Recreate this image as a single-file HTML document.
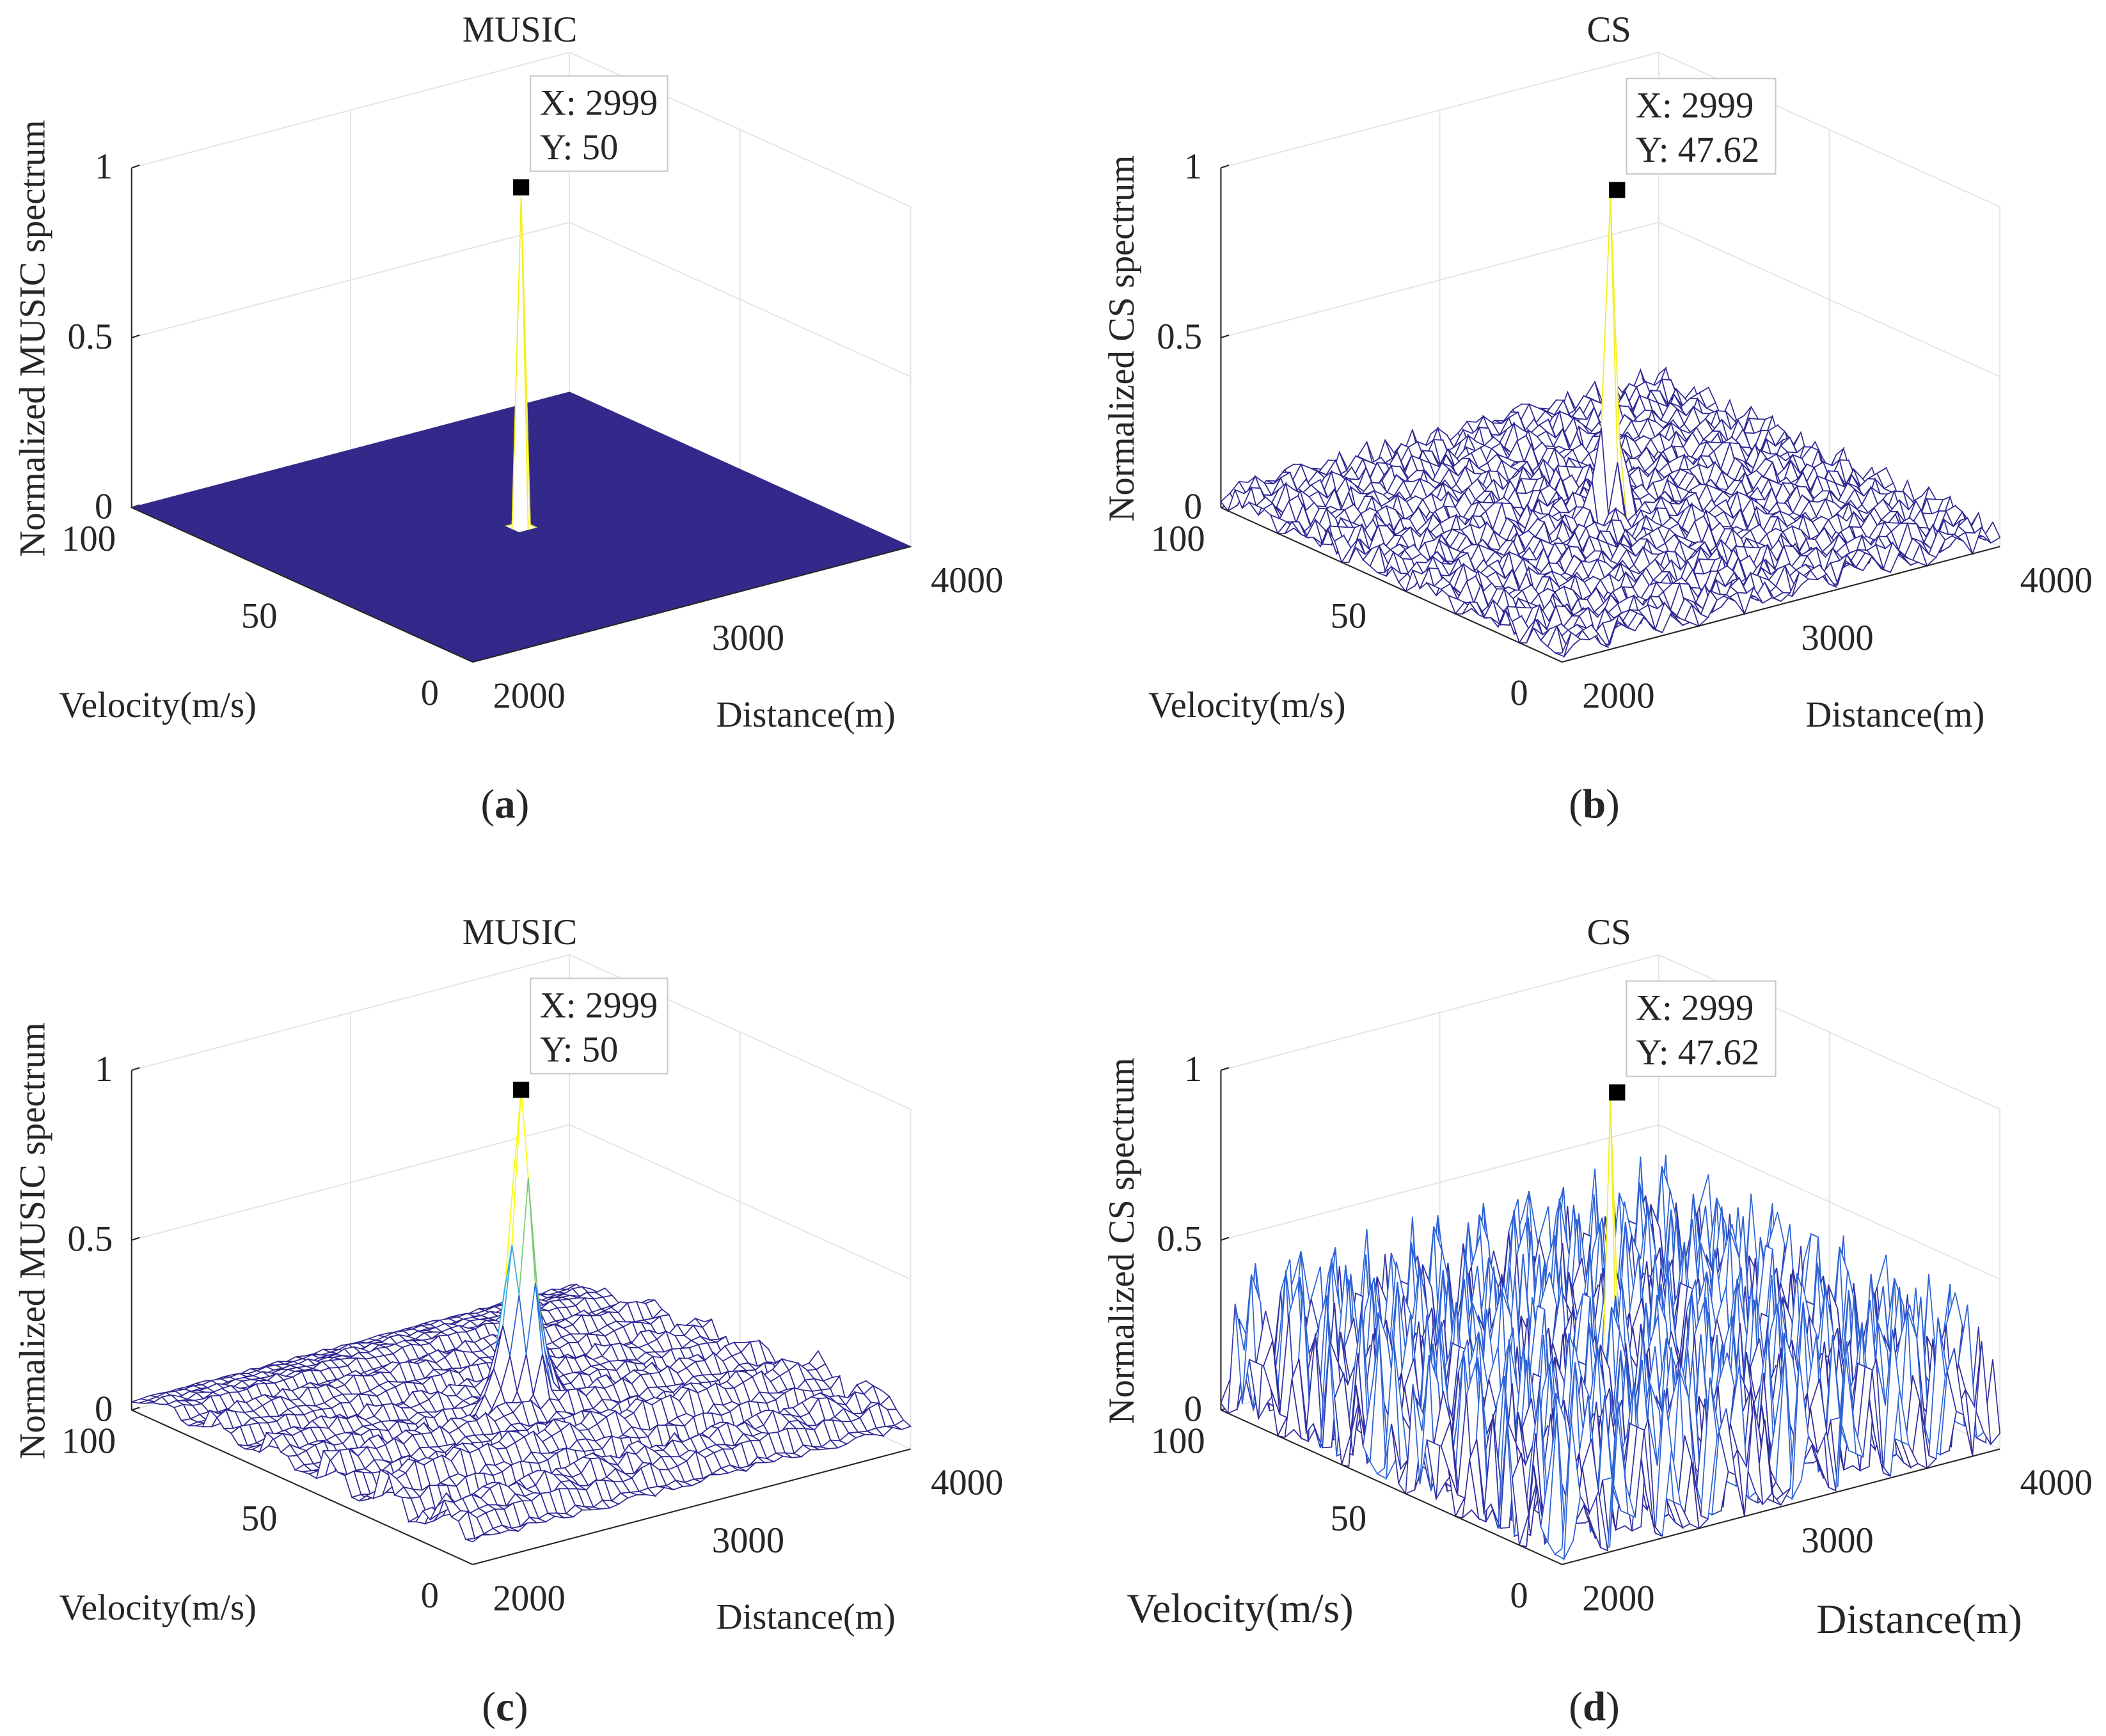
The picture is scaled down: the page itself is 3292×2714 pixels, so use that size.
<!DOCTYPE html>
<html><head><meta charset="utf-8"><style>
html,body{margin:0;padding:0;background:#fff}
svg{display:block}
text{font-family:"Liberation Serif",serif;fill:#262626}
</style></head><body>
<svg id="fig" xmlns="http://www.w3.org/2000/svg" width="3292" height="2714" viewBox="0 0 1568 1292.7"></svg>
<script>
// ---- data ----
const distTicks=[2000,3000,4000];
const velTicks=[0,50,100];
const zTicks=[0,0.5,1];
const noiseRows=[
"3816204957132860491735826","5092718364059172836401957","2749163085274916305827461",
"8163057294816305729481630","0573928164057392816405739","6284015739628401573962840",
"4938271605493827160549382","1607384952160738495216073","7351960248735196024873519",
"9426037518942603751894260","2815749360281574936028157","6049182735604918273560491",
"3728506914372850691437285","8193640527819364052781936","5460279183546027918354602",
"0937415862093741586209374","7285031649728503164972850","4613928570461392857046139",
"1859672043185967204318596","9372184605937218460593721","3046851927304685192730468",
"6718293054671829305467182","2591740386259174038625917","8430569172843056917284305",
"5164382709516438270951643"];
const ridgeProfileC=[0.08,0.13,0.16,0.1,0.05,0.12,0.17,0.08,0.04,0.1,0.14,0.06,0.05,0.09,0.12,0.06,0.04,0.08,0.11,0.05,0.04,0.07,0.06,0.04,0.03];
const peakDistProfileC=[1,0.55,0.32,0.2,0.13,0.08,0.05];
const peakVelProfileC=[1,0.75,0.45,0.25,0.12,0.05];
const peakValue=1, peakDist=3000, peakVel=50;
const tipX=["2999","2999","2999","2999"];
const tipY=["50","47.62","50","47.62"];
// ---- setup ----
const NS="http://www.w3.org/2000/svg";
const svg=document.getElementById('fig');
function el(tag,attrs,parent){const e=document.createElementNS(NS,tag);for(const k in attrs)e.setAttribute(k,attrs[k]);(parent||svg).appendChild(e);return e;}
function txt(s,x,y,size,anchor,parent,extra){const t=el('text',Object.assign({x:x,y:y,'font-size':size,'text-anchor':anchor||'start'},extra||{}),parent);t.textContent=s;return t;}
const N=49;
const cm=[[0,[46,38,140]],[0.32,[48,44,160]],[0.44,[45,110,225]],[0.55,[50,170,225]],[0.75,[120,200,120]],[0.9,[230,210,50]],[1,[249,251,14]]];
function cmap(v){v=Math.max(0,Math.min(1,v));for(let i=1;i<cm.length;i++){if(v<=cm[i][0]){const a=cm[i-1],b=cm[i];const t=(v-a[0])/(b[0]-a[0]);const c=a[1].map((x,k)=>Math.round(x+(b[1][k]-x)*t));return `rgb(${c})`;}}return 'rgb(249,251,14)';}
function dig(i,j){return +noiseRows[i%25][(j*7+i*3)%25];}
function grid(kind){
  const Z=[];const pi=Math.round((peakVel/100)*(N-1)), pj=Math.round((peakDist-2000)/2000*(N-1));
  for(let i=0;i<N;i++){Z.push([]);for(let j=0;j<N;j++){
    let z=0;
    if(kind==='b') z=dig(i,j)/9*0.08;
    if(kind==='d') z=Math.pow(dig(i,j)/9,2)*0.42;
    if(kind==='c') z=ridgeProfileC[Math.floor(i/2)]*(0.75+0.25*dig(i,j)/9);
    Z[i].push(z);}}
  const di=Math.abs, pd=peakDistProfileC, pv=peakVelProfileC;
  if(kind==='c'){for(let i=0;i<N;i++)for(let j=0;j<N;j++){const a=di(j-pj),b=di(i-pi);if(a<pd.length&&b<pv.length)Z[i][j]=Math.max(Z[i][j],peakValue*pd[a]*pv[b]);}}
  else Z[pi][pj]=peakValue*0.97;
  if(kind==='b'){[[0,-1,0.3],[0,1,0.25],[1,0,0.2],[-1,0,0.2],[0,-2,0.15],[0,2,0.14]].forEach(([a,b,v])=>{Z[pi+a][pj+b]=Math.max(Z[pi+a][pj+b],v);});}
  return Z;
}
const panels=[
 {id:'a',ox:0,oy:0,title:'MUSIC',ylab:'Normalized MUSIC spectrum',kind:'a',big:false},
 {id:'b',ox:811,oy:0,title:'CS',ylab:'Normalized CS spectrum',kind:'b',big:false},
 {id:'c',ox:0,oy:672,title:'MUSIC',ylab:'Normalized MUSIC spectrum',kind:'c',big:false},
 {id:'d',ox:811,oy:672,title:'CS',ylab:'Normalized CS spectrum',kind:'d',big:true}];
panels.forEach((p,idx)=>{
  const g=el('g',{});
  
  
  const L=[98+p.ox,378+p.oy];
  const P=(d,v,z)=>[L[0]+(1-v/100)*254+(d-2000)/2000*326, L[1]+(1-v/100)*115-(d-2000)/2000*86-z*253];
  const gl={stroke:'#e3e3e3','stroke-width':0.9,fill:'none'};
  zTicks.forEach(z=>{const a=P(2000,100,z),b=P(4000,100,z),c=P(4000,0,z);el('polyline',Object.assign({points:`${a} ${b} ${c}`},gl),g);});
  [P(3000,100,0),P(3000,100,1)].reduce((a,b)=>{el('line',Object.assign({x1:a[0],y1:a[1],x2:b[0],y2:b[1]},gl),g);return b;});
  [P(4000,50,0),P(4000,50,1)].reduce((a,b)=>{el('line',Object.assign({x1:a[0],y1:a[1],x2:b[0],y2:b[1]},gl),g);return b;});
  [[4000,100],[4000,0]].forEach(([d,v])=>{const a=P(d,v,0),b=P(d,v,1);el('line',Object.assign({x1:a[0],y1:a[1],x2:b[0],y2:b[1]},gl),g);});
  const za=P(2000,100,0),zb=P(2000,100,1);
  el('line',{x1:za[0],y1:za[1],x2:zb[0],y2:zb[1],stroke:'#262626','stroke-width':1},g);
  zTicks.forEach(z=>{const q=P(2000,100,z);el('line',{x1:q[0],y1:q[1],x2:q[0]+6,y2:q[1]-2,stroke:'#262626','stroke-width':1},g);
    const t=txt(String(z),q[0]-14,q[1]+8,27,'end',g);});
  const Z=grid(p.kind);
  const quads=[];
  for(let i=0;i<N-1;i++)for(let j=0;j<N-1;j++){
    const v0=i/(N-1)*100,v1=(i+1)/(N-1)*100,d0=2000+j/(N-1)*2000,d1=2000+(j+1)/(N-1)*2000;
    const pts=[P(d0,v0,Z[i][j]),P(d1,v0,Z[i][j+1]),P(d1,v1,Z[i+1][j+1]),P(d0,v1,Z[i+1][j])];
    const depth=P((d0+d1)/2,(v0+v1)/2,0)[1];
    const zm=Math.max(Z[i][j],Z[i][j+1],Z[i+1][j+1],Z[i+1][j]);
    quads.push({pts,depth,zm});}
  quads.sort((a,b)=>a.depth-b.depth);
  const sg=el('g',{},g);
  
  
  quads.forEach(q=>{
    const col=cmap(q.zm);
    const flat=p.kind==='a'&&q.zm<=0.05;
    el('polygon',{points:q.pts.map(x=>x.join(',')).join(' '),fill:flat?'#33298a':'#fff',stroke:flat?'#33298a':col,'stroke-width':flat?0.6:0.8},sg);
  });
  const f0=P(2000,0,0),f1=P(4000,0,0);
  el('line',{x1:za[0],y1:za[1],x2:f0[0],y2:f0[1],stroke:'#262626','stroke-width':1},g);
  el('line',{x1:f0[0],y1:f0[1],x2:f1[0],y2:f1[1],stroke:'#262626','stroke-width':1},g);
  velTicks.forEach(v=>{const q=P(2000,v,0);const t=txt(String(v),q[0]-32,q[1]+32,27,'middle',g);});
  distTicks.forEach(d=>{const q=P(d,0,0);const t=txt(String(d),q[0]+42,q[1]+34,27,'middle',g);});
  const fs=p.big?31:27;
  const vl=txt('Velocity(m/s)',L[0]-54+(p.big?-16:0),L[1]+156+(p.big?2:0),fs,'start',g);
  
  const dl=txt('Distance(m)',L[0]+502+(p.big?18:0),L[1]+163+(p.big?3:0),fs,'middle',g);
  
  const yl=txt(p.ylab,0,0,27,'middle',g,{transform:`translate(${L[0]-65},${L[1]-126}) rotate(-90)`});
  
  const tt=txt(p.title,L[0]+289,p.oy+31,27,'middle',g);
  
  const pk=P(peakDist,peakVel,1.0);
  const tipG=el('g',{},g);
  
  
  const wide=p.kind==='b'||p.kind==='d';
  const bx=pk[0]+7+(wide?5:0), by=pk[1]-83+(wide?2:0), bw=wide?111:102;
  el('rect',{x:bx,y:by,width:bw,height:71,fill:'#fff',stroke:'#c8c8c8','stroke-width':1},tipG);
  txt('X: '+tipX[idx],bx+7,by+29,27,'start',tipG);
  txt('Y: '+tipY[idx],bx+7,by+62,27,'start',tipG);
  const mk=el('rect',{x:pk[0]-6+(wide?5:0),y:pk[1]-6+(wide?2:0),width:12,height:12,fill:'#000'},g);
  
  const cap=el('text',{x:L[0]+278,y:p.oy+609,'font-size':31,'text-anchor':'middle'},g);
  
  cap.innerHTML='(<tspan font-weight="bold">'+p.id+'</tspan>)';
});
</script>
</body></html>
